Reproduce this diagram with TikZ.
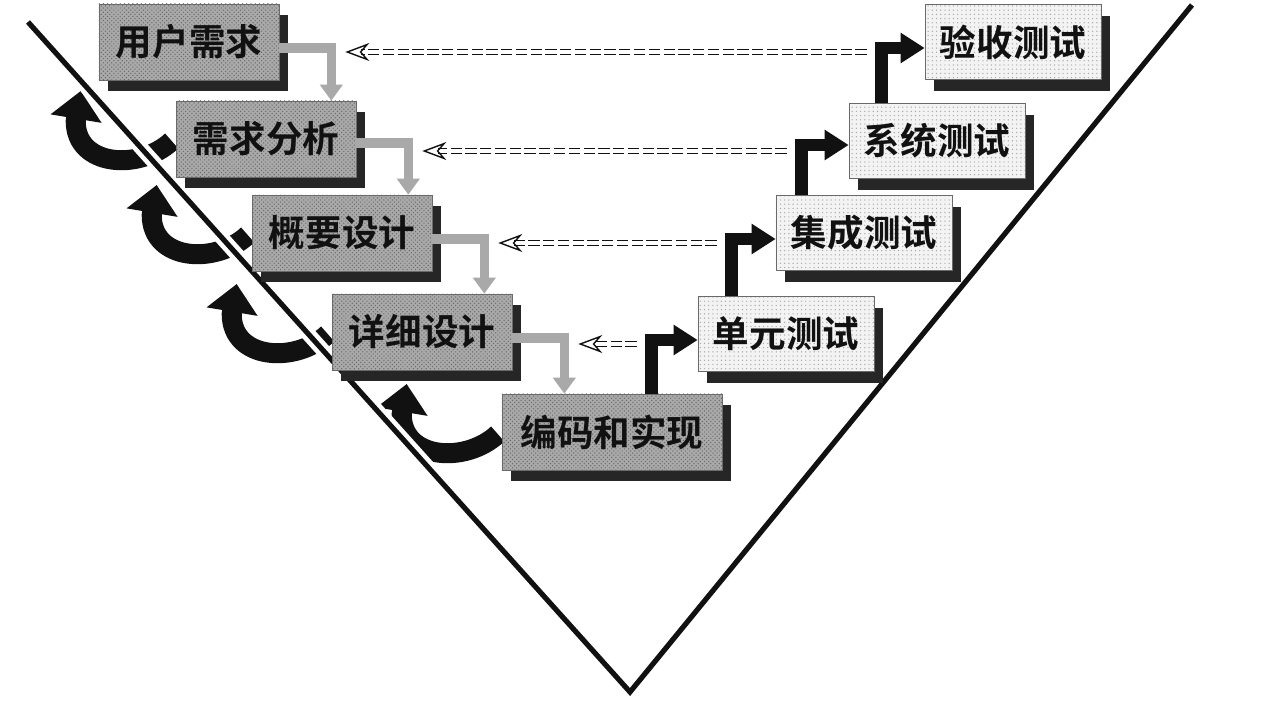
\documentclass[tikz,border=0pt]{standalone}
\usepackage{fontspec}
\newfontfamily\cjk{Noto Sans CJK SC}[BoldFont={* Bold}]
\definecolor{ink}  {HTML}{111111}
\definecolor{stone}{HTML}{A9A9A9}
\definecolor{grit} {HTML}{6A6A6A}
\definecolor{chalk}{HTML}{F3F3F3}
\definecolor{shade}{HTML}{262626}
\usetikzlibrary{positioning,calc,arrows.meta,shadows,patterns,backgrounds}
\tikzset{
  stagebox/.style={draw=grit,line width=0.4pt,
                   drop shadow={shadow xshift=0.22cm,shadow yshift=-0.28cm,
                                fill=shade,opacity=1},
                   preaction={fill=stone},pattern=crosshatch dots,
                   pattern color=grit,inner sep=0pt,
                   minimum width=4.5cm,minimum height=1.9cm,
                   font=\cjk\bfseries\fontsize{26pt}{30pt}\selectfont,text=ink},
  testbox/.style={stagebox,preaction={fill=chalk},pattern=dots,
                  pattern color=stone,minimum width=4.4cm,minimum height=1.88cm},
  downflow/.style={draw=stone,line width=0.24cm,
                   -{Triangle[length=0.4cm,width=0.55cm]}},
  stepflow/.style={draw=ink,line width=0.32cm,
                   -{Triangle[length=0.6cm,width=0.72cm]}},
  backflow/.style={draw=ink,double=white,double distance=2.4pt,line width=1pt,
                   dash pattern=on 8pt off 2.5pt,
                   -{Stealth[open,length=0.6cm,width=0.45cm]}},
  feedback/.style={draw=ink,line width=0.5cm,
                   -{Triangle[length=0.7cm,width=1.25cm]}},
  vline/.style={draw=ink,line width=0.13cm,
                preaction={draw=white,line width=0.36cm}}
}
\begin{document}
\begin{tikzpicture}[x=0.025cm,y=-0.025cm]
  \useasboundingbox (0,0) rectangle (1262,702);

  % development side
  \node[stagebox] (req)  at (189,42)  {用户需求};
  \node[stagebox] (ana)  at (266,139) {需求分析};
  \node[stagebox] (arch) at (342,233) {概要设计};
  \node[stagebox] (det)  at (422,332) {详细设计};
  \node[stagebox,minimum width=5.5cm] (code) at (612,432) {编码和实现};

  % testing side
  \node[testbox] (unit)  at (786,334) {单元测试};
  \node[testbox] (integ) at (864,233) {集成测试};
  \node[testbox] (sys)   at (937,141) {系统测试};
  \node[testbox] (acc)   at (1013,42) {验收测试};

  % gray steps down
  \coordinate (g1) at ($(req.east)+(52,6)$);
  \coordinate (g2) at ($(ana.east)+(52,4)$);
  \coordinate (g3) at ($(arch.east)+(52,6)$);
  \coordinate (g4) at ($(det.east)+(52,6)$);
  \draw[downflow] (req.east |- g1) -- (g1) -- (g1 |- ana.north);
  \draw[downflow] (ana.east |- g2) -- (g2) -- (g2 |- arch.north);
  \draw[downflow] (arch.east |- g3) -- (g3) -- (g3 |- det.north);
  \draw[downflow] (det.east |- g4) -- (g4) -- (g4 |- code.north);

  % black steps up
  \coordinate (k1) at ($(code.north west)+(150,0)$);
  \coordinate (k2) at ($(unit.north west)+(34,0)$);
  \coordinate (k3) at ($(integ.north west)+(26,0)$);
  \coordinate (k4) at ($(sys.north west)+(33,0)$);
  \draw[stepflow] (k1) |- ([yshift=-0.15cm]unit.west);
  \draw[stepflow] (k2) |- ([yshift=-0.15cm]integ.west);
  \draw[stepflow] (k3) |- ([yshift=-0.1cm]sys.west);
  \draw[stepflow] (k4) |- ([yshift=-0.15cm]acc.west);

  % test back to design
  \foreach \k/\g/\t in {k4/g1/acc,k3/g2/sys,k2/g3/integ,k1/g4/unit}
    \draw[backflow] ($(\k |- \t.west)+(-15,10)$) -- ($(\g |- \t.west)+(14,10)$);

  \begin{scope}[on background layer]
    \fill[white] (0,0) rectangle (1262,702);
    \foreach \b in {ana,arch,det,code}
      \draw[feedback] ($(\b.west)+(-4,2)$)
        .. controls ($(\b.west)+(-36,32)$) and ($(\b.west)+(-100,28)$)
        .. ($(\b.west)+(-100,-18)$) -- ($(\b.west)+(-95,-48)$);
    \draw[vline] (28,22) -- (630,692) -- (1192,5);
  \end{scope}
\end{tikzpicture}
\end{document}
